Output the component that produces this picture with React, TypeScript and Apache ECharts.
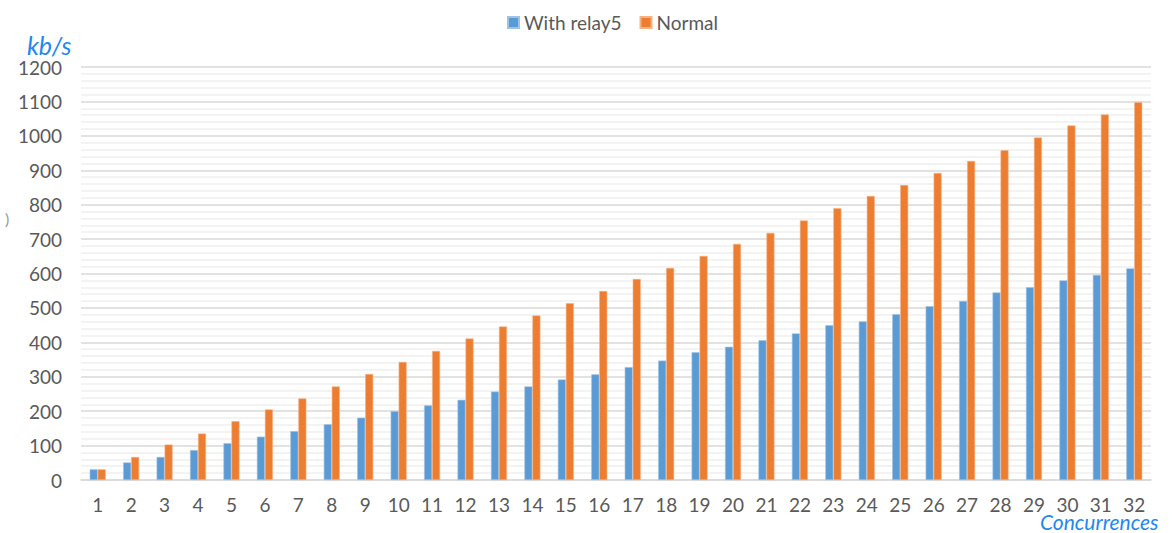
import React, { useEffect, useRef } from "react";
import * as echarts from "echarts";

const categories = Array.from({ length: 32 }, (_, i) => String(i + 1));
const withRelay5 = [31, 51, 67, 87, 107, 126, 142, 162, 181, 200, 217, 233, 257, 272, 292, 307, 328, 347, 371, 387, 406, 426, 450, 461, 482, 505, 520, 545, 560, 580, 596, 615];
const normal = [31, 67, 103, 135, 171, 205, 237, 272, 308, 343, 375, 411, 446, 478, 514, 549, 584, 616, 651, 686, 718, 754, 790, 825, 857, 892, 927, 958, 995, 1030, 1062, 1098];
const seriesNames = ["With relay5", "Normal"];
const yTitle = "kb/s";
const xTitle = "Concurrences";

export default function App() {
  const ref = useRef<HTMLDivElement>(null);
  useEffect(() => {
    if (!ref.current) return;
    const chart = echarts.init(ref.current, undefined, { renderer: "svg" });
    const font = "Lato, 'Open Sans', sans-serif";
    chart.setOption({
      animation: false,
      backgroundColor: "#ffffff",
      textStyle: { fontFamily: font },
      legend: {
        top: 8,
        left: 502,
        itemWidth: 11,
        itemHeight: 11,
        itemGap: 18,
        icon: "rect",
        textStyle: { fontSize: 19, color: "#595959", fontFamily: font },
        data: seriesNames,
      },
      grid: { left: 81, right: 24, top: 67, bottom: 53, containLabel: false },
      xAxis: {
        type: "category",
        data: categories,
        axisLine: { show: true, lineStyle: { color: "#d9d9d9", width: 1.5 } },
        axisTick: { show: false },
        axisLabel: { fontSize: 19, color: "#595959", margin: 15, fontFamily: font },
      },
      yAxis: {
        type: "value",
        min: 0,
        max: 1200,
        interval: 100,
        axisLine: { show: false },
        axisTick: { show: false },
        axisLabel: {
          fontSize: 19,
          color: "#595959",
          margin: 19,
          fontFamily: font,
          formatter: (v: number) => String(v),
        },
        splitLine: { show: true, lineStyle: { color: "#d9d9d9", width: 1.5 } },
        minorTick: { show: false, splitNumber: 5 },
        minorSplitLine: { show: true, lineStyle: { color: "#efefef", width: 1.5 } },
      },
      series: [
        {
          name: seriesNames[0],
          type: "bar",
          data: withRelay5,
          barWidth: 8,
          barGap: "0%",
          itemStyle: { color: "#5b9bd5", borderColor: "#9dc3e6", borderWidth: 0.6 },
        },
        {
          name: seriesNames[1],
          type: "bar",
          data: normal,
          barWidth: 8,
          barGap: "0%",
          itemStyle: { color: "#ed7d31", borderColor: "#f4b183", borderWidth: 0.6 },
        },
      ],
      graphic: [
        {
          type: "text",
          left: 27,
          top: 32,
          style: { text: yTitle, fontSize: 25, fontStyle: "italic", fill: "#1e88f0", fontFamily: font },
        },
        {
          type: "text",
          left: 1040,
          top: 511,
          style: { text: xTitle, fontSize: 21, fontStyle: "italic", fill: "#1e88f0", fontFamily: font },
        },
        {
          type: "text",
          left: 5,
          top: 210,
          style: { text: ")", fontSize: 16, fill: "#9a9a9a", fontFamily: font },
        },
      ],
    });
    return () => chart.dispose();
  }, []);
  return (
    <div
      ref={ref}
      style={{ position: "fixed", left: 0, top: 0, width: 1175, height: 533 }}
    />
  );
}
